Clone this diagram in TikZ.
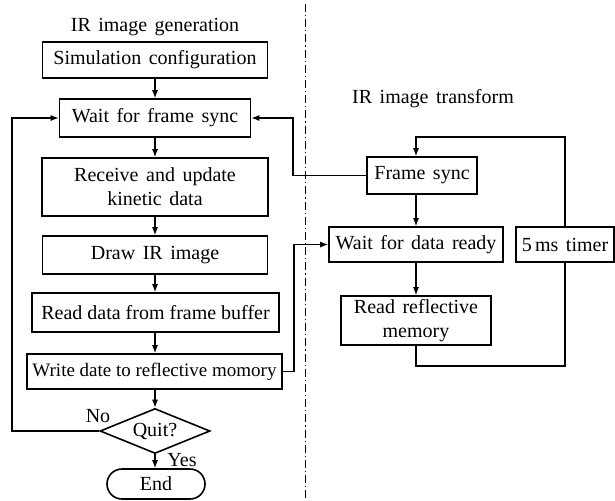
\documentclass[tikz,border=0pt]{standalone}
\usepackage{fontspec}
\setmainfont[WordSpace=1.5]{Liberation Serif}
\newfontfamily\tightfont{Liberation Serif}
\usetikzlibrary{arrows.meta,shapes.geometric}

\begin{document}
\begin{tikzpicture}[x=0.5pt,y=-0.5pt,
        box/.style={draw, line width=0.8pt, inner sep=0pt, align=center},
        decision/.style={draw, diamond, line width=0.8pt, inner sep=0pt, minimum width=55pt, minimum height=22.5pt, aspect=2.4},
        terminal/.style={draw, rectangle, rounded corners=7.5pt, line width=0.8pt, minimum width=49pt, minimum height=15pt, inner sep=0pt},
        arr/.style={line width=0.6pt, -{Latex[length=4pt,width=3pt]}},
        link/.style={line width=0.6pt}]
        \useasboundingbox (0,0) rectangle (615,500);
        % separator
        \draw[line width=0.4pt, dash pattern=on 4pt off 1.5pt on 0.6pt off 1.5pt] (305,4) -- (305,500);
        % IR image generation
        \node (gentitle) at (155,27) {IR image generation};
        \node[box, minimum width=112.5pt, minimum height=18pt] (simcfg) at (155,60) {Simulation configuration};
        \node[box, minimum width=95.5pt, minimum height=19pt] (waitsync) at (155,118) {Wait for frame sync};
        \node[box, minimum width=113pt, minimum height=29pt] (recv) at (155,187) {Receive and update\\kinetic data};
        \node[box, minimum width=112.5pt, minimum height=19pt] (drawir) at (155,255) {Draw IR image};
        \node[box, minimum width=123.5pt, minimum height=19.5pt, font=\tightfont] (readbuf) at (155.5,312.5) {Read data from frame buffer};
        \node[box, minimum width=127.5pt, minimum height=17.5pt, font=\tightfont\fontsize{9.5}{11}\selectfont] (writemem) at (154.5,371.5) {Write date to reflective momory};
        \node[decision] (quit) at (155,431) {Quit?};
        \node[terminal] (endnode) at (156,484) {End};
        \node (nolabel) at (98,416) {No};
        \node (yeslabel) at (182,460) {Yes};
        \draw[arr] (simcfg.south) -- (simcfg.south |- waitsync.north);
        \draw[arr] (waitsync.south) -- (waitsync.south |- recv.north);
        \draw[arr] (recv.south) -- (recv.south |- drawir.north);
        \draw[arr] (drawir.south) -- (drawir.south |- readbuf.north);
        \draw[arr] (readbuf.south -| drawir.south) -- (drawir.south |- writemem.north);
        \draw[arr] (writemem.south -| drawir.south) -- (drawir.south |- quit.north);
        \draw[arr] (quit.south) -- (quit.south |- endnode.north);
        \coordinate (noturn) at (12,431);
        \draw[arr] (quit.west) -- (noturn) |- (waitsync.west);
        % IR image transform
        \node (tftitle) at (433,99) {IR image transform};
        \node[box, minimum width=55pt, minimum height=18.5pt] (framesync) at (422,175.5) {Frame sync};
        \node[box, minimum width=87pt, minimum height=17.5pt] (waitdata) at (416,244.5) {Wait for data ready};
        \node[box, minimum width=49pt, minimum height=17.5pt] (timer) at (565,244.5) {5\,ms timer};
        \node[box, minimum width=75pt, minimum height=24.5pt] (readmem) at (416,320.5) {Read reflective\\memory};
        \coordinate (syncturn) at (293,175.5);
        \coordinate (dataturn) at (294,371.5);
        \coordinate (looptop) at (416,137);
        \coordinate (loopbot) at (416,366);
        \draw[arr] (framesync.south -| waitdata.north) -- (waitdata.north);
        \draw[arr] (waitdata.south) -- (readmem.north);
        \draw[link] (readmem.south) -- (loopbot) -| (timer.south);
        \draw[arr] (timer.north) |- (looptop) -- (framesync.north -| looptop);
        \draw[arr] (framesync.west) -- (syncturn) |- (waitsync.east);
        \draw[arr] (writemem.east) -- (dataturn) |- (waitdata.west);
\end{tikzpicture}
\end{document}
